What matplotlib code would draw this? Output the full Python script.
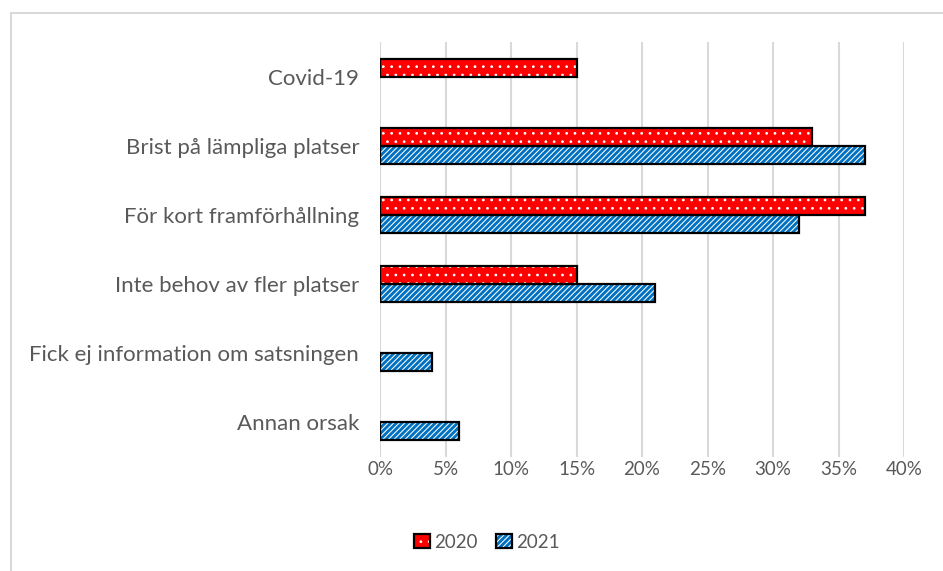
import numpy as np
import matplotlib.pyplot as plt
from matplotlib.patches import Rectangle

plt.rcParams['font.family'] = ['Lato', 'DejaVu Sans']
plt.rcParams['hatch.linewidth'] = 0.75

# data (percent), top to bottom
categories = ['Covid-19', 'Brist på lämpliga platser', 'För kort framförhållning',
              'Inte behov av fler platser', 'Fick ej information om satsningen', 'Annan orsak']
v2020 = [15, 33, 37, 15, 0, 0]
v2021 = [0, 37, 32, 21, 4, 6]
xticks = [0, 5, 10, 15, 20, 25, 30, 35, 40]

red = '#FF0000'
blue = '#0070C0'
txt = '#595959'

fig = plt.figure(figsize=(9.43, 5.71), dpi=100)
ax = fig.add_axes([0.403, 0.2005, 0.5557, 0.7251])

y = np.arange(len(categories))
h = 0.265

# fills with white pattern, then black outline on top
f20 = ax.barh(y - h / 2, v2020, height=h, color=red, edgecolor='white', hatch='..', linewidth=0, zorder=2)
f21 = ax.barh(y + h / 2, v2021, height=h, color=blue, edgecolor='white', hatch='//////', linewidth=0, zorder=2)
o20 = ax.barh(y - h / 2, v2020, height=h, fill=False, edgecolor='black', linewidth=1.6, zorder=3)
o21 = ax.barh(y + h / 2, v2021, height=h, fill=False, edgecolor='black', linewidth=1.6, zorder=3)
# hide outlines of empty bars
for bars, vals in ((o20, v2020), (o21, v2021)):
    for b, v in zip(bars, vals):
        if v == 0:
            b.set_visible(False)

ax.set_ylim(len(categories) - 0.5, -0.5)
ax.set_xlim(0, 40)
ax.set_yticks(y)
ax.set_yticklabels(categories, fontsize=16, color=txt)
ax.set_xticks(xticks)
ax.set_xticklabels([f'{t}%' for t in xticks], fontsize=13.5, color=txt)
ax.tick_params(length=0)
ax.tick_params(axis='y', pad=15)
ax.tick_params(axis='x', pad=3)
ax.grid(axis='x', color='#D9D9D9', linewidth=1.5, zorder=0)
ax.set_axisbelow(True)
for s in ax.spines.values():
    s.set_visible(False)

# outer chart frame (only left and top visible)
fig.patches.append(Rectangle((11 / 943, -0.2), 2, 1.2 - 13 / 571, transform=fig.transFigure,
                             fill=False, edgecolor='#D9D9D9', linewidth=1.5))

h20 = (f20[0], o20[0])
h21 = (f21[1], o21[1])
fig.legend([h20, h21], ['2020', '2021'], loc='center', bbox_to_anchor=(487 / 943, 1 - 542 / 571),
           ncol=2, frameon=False, handlelength=0.85, handleheight=0.85, handletextpad=0.2,
           columnspacing=1.0, labelcolor=txt, prop={'size': 13.5})

fig.savefig('out.png', dpi=100)
